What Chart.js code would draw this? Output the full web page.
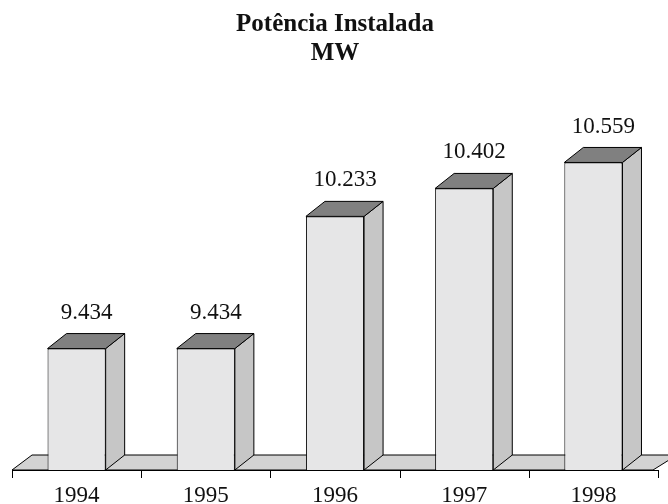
<!DOCTYPE html>
<html>
<head>
<meta charset="utf-8">
<script src="https://cdn.jsdelivr.net/npm/chart.js@4"></script>
<style>
  body { margin: 0; background: #fff; }
  #wrap { width: 668px; height: 504px; }
</style>
</head>
<body>
<div id="wrap"><canvas id="myChart" width="668" height="504"></canvas></div>
<script>
// dados
var anos = ['1994', '1995', '1996', '1997', '1998'];
var potencia = [9434, 9434, 10233, 10402, 10559];

var DX = 19, DY = -15; // profundidade 3D
var FONTE = '23px "Liberation Serif", serif';

function fmt(v) {
    return String(v).replace(/\B(?=(\d{3})+(?!\d))/g, '.');
}

// piso, faces 3D e rotulos
var efeito3d = {
    id: 'efeito3d',
    beforeDatasetsDraw: function (chart) {
        var c = chart.ctx, a = chart.chartArea;
        c.save();
        c.fillStyle = '#d3d3d3';
        c.strokeStyle = '#000';
        c.lineWidth = 1;
        c.beginPath();
        c.moveTo(a.left, a.bottom);
        c.lineTo(a.left + DX + 1, a.bottom + DY);
        c.lineTo(a.right + DX, a.bottom + DY);
        c.lineTo(a.right - 5, a.bottom);
        c.closePath();
        c.fill();
        c.stroke();
        c.restore();
    },
    afterDatasetsDraw: function (chart) {
        var c = chart.ctx, a = chart.chartArea;
        var meta = chart.getDatasetMeta(0);
        c.save();
        c.strokeStyle = '#000';
        c.lineWidth = 1;
        meta.data.forEach(function (bar, i) {
            var l = bar.x - bar.width / 2, r = bar.x + bar.width / 2;
            var t = bar.y, b = Math.min(bar.base, a.bottom);
            // lateral
            c.fillStyle = '#c6c6c6';
            c.beginPath();
            c.moveTo(r, b);
            c.lineTo(r + DX, b + DY);
            c.lineTo(r + DX, t + DY);
            c.lineTo(r, t);
            c.closePath();
            c.fill();
            c.stroke();
            // topo
            c.fillStyle = '#808080';
            c.beginPath();
            c.moveTo(l, t);
            c.lineTo(l + DX, t + DY);
            c.lineTo(r + DX, t + DY);
            c.lineTo(r, t);
            c.closePath();
            c.fill();
            c.stroke();
            // valor
            c.fillStyle = '#111';
            c.font = FONTE;
            c.textAlign = 'center';
            c.textBaseline = 'middle';
            c.fillText(fmt(potencia[i]), bar.x + 10, t - 36);
        });
        // eixo x
        var xs = chart.scales.x;
        c.beginPath();
        c.moveTo(a.left, a.bottom + 0.5);
        c.lineTo(a.right, a.bottom + 0.5);
        for (var k = 0; k <= anos.length; k++) {
            var px = Math.round(a.left + (a.right - a.left) * k / anos.length) + 0.5;
            c.moveTo(px, a.bottom);
            c.lineTo(px, a.bottom + 8);
        }
        c.stroke();
        c.fillStyle = '#111';
        c.font = FONTE;
        c.textAlign = 'center';
        c.textBaseline = 'middle';
        anos.forEach(function (ano, i) {
            c.fillText(ano, xs.getPixelForValue(i), a.bottom + 26);
        });
        c.restore();
    }
};

var ctx = document.getElementById('myChart').getContext('2d');

new Chart(ctx, {
    type: 'bar',
    data: {
        labels: anos,
        datasets: [{
            label: 'MW',
            data: potencia,
            backgroundColor: '#e6e6e7',
            borderColor: '#000',
            borderWidth: 1,
            categoryPercentage: 1,
            barPercentage: 0.45
        }]
    },
    options: {
        responsive: false,
        animation: false,
        layout: {
            padding: { left: 12, right: 10, top: 0, bottom: 34 }
        },
        scales: {
            x: { display: false },
            y: { display: false, min: 8700, max: 11000 }
        },
        plugins: {
            legend: { display: false },
            tooltip: { enabled: false },
            title: {
                display: true,
                text: ['Potência Instalada', 'MW'],
                color: '#111',
                font: { family: '"Liberation Serif", serif', size: 25, weight: 'bold', lineHeight: 1.15 },
                padding: { top: 10, bottom: 22 }
            }
        }
    },
    plugins: [efeito3d]
});
</script>
</body>
</html>
